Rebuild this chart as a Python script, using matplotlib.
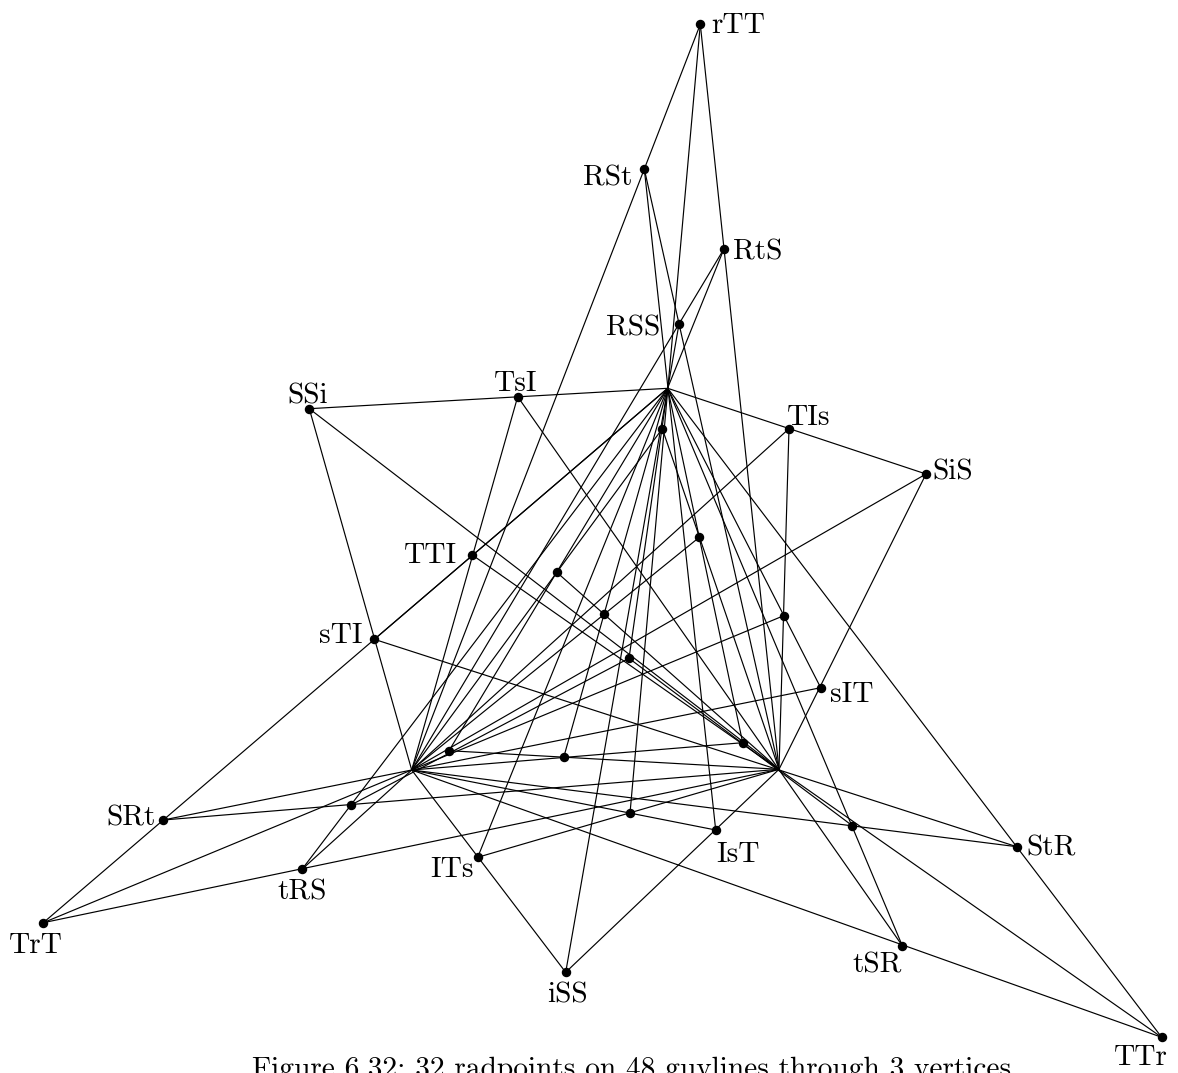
import matplotlib
matplotlib.use("Agg")
import matplotlib.pyplot as plt
import numpy as np

# ---- data: the three vertices and the 32 radpoints (picture coordinates) ----
vertex_names = ["A", "B", "C"]
vertex_x = [667.7, 411.7, 779.0]
vertex_y = [388.3, 770.0, 769.3]

point_names = ["rTT", "RSt", "RtS", "RSS", "TsI", "SSi", "TIs", "SiS",
               "TTI", "sTI", "sIT", "SRt", "StR", "IsT", "ITs", "tRS",
               "TrT", "tSR", "iSS", "TTr",
               "u1", "u2", "u3", "u4", "u5", "u6", "u7", "u8", "u9", "u10", "u11", "u12"]
point_x = [700.3, 644.3, 724.0, 679.0, 517.7, 309.3, 789.0, 926.0,
           472.3, 374.3, 820.7, 163.3, 1016.7, 715.7, 477.7, 302.0,
           43.3, 902.3, 565.7, 1161.7,
           662.3, 699.3, 556.8, 604.3, 783.7, 629.0, 449.0, 563.7, 742.7, 351.0, 630.0, 852.3]
point_y = [24.3, 169.0, 248.8, 324.0, 396.7, 408.7, 428.7, 474.0,
           555.0, 639.3, 687.7, 820.0, 846.7, 830.0, 857.3, 869.3,
           922.7, 945.7, 972.3, 1037.3,
           428.7, 537.3, 572.3, 614.3, 615.7, 658.3, 750.7, 757.3, 742.7, 805.0, 813.3, 825.7]

# guylines: each passes through one vertex and two radpoints
guylines_A = [("TIs", "SiS"), ("StR", "TTr"), ("u5", "sIT"), ("tSR", "u12"),
              ("u2", "u9"), ("IsT", "RSt"), ("u11", "rTT"), ("u6", "u1"),
              ("iSS", "RSS"), ("u8", "u4"), ("RtS", "ITs"), ("u3", "u7"),
              ("tRS", "u10"), ("TTI", "sTI"), ("SRt", "TrT"), ("TsI", "SSi")]
guylines_B = [("u12", "StR"), ("u11", "IsT"), ("tSR", "TTr"), ("ITs", "iSS"),
              ("sTI", "SSi"), ("TTI", "TsI"), ("RSt", "rTT"), ("RtS", "RSS"),
              ("u1", "u3"), ("TIs", "tRS"), ("u4", "u2"), ("u5", "TrT"),
              ("sIT", "SRt"), ("u8", "u9"), ("SiS", "u7"), ("u10", "u6")]
guylines_C = [("u7", "u8"), ("StR", "sTI"), ("TTr", "TTI"), ("u12", "u6"),
              ("u9", "SSi"), ("u3", "u4"), ("tSR", "TsI"), ("u1", "u2"),
              ("RSt", "RSS"), ("RtS", "rTT"), ("TIs", "u5"), ("SiS", "sIT"),
              ("iSS", "IsT"), ("ITs", "u11"), ("TrT", "tRS"), ("SRt", "u10")]

labelled = ["rTT", "RSt", "RtS", "RSS", "TsI", "SSi", "TIs", "SiS",
            "TTI", "sTI", "sIT", "SRt", "StR", "IsT", "ITs", "tRS",
            "TrT", "tSR", "iSS", "TTr"]

caption = "Figure 6.32: 32 radpoints on 48 guylines through 3 vertices."

# ---- layout (label placement: dx, dy to baseline, alignment) ----
label_place = {
    "rTT": (11, 9, "left"), "RSt": (-12, 16, "right"), "RtS": (9, 11, "left"),
    "RSS": (-19, 11.7, "right"), "TsI": (-2, -5.7, "center"), "SSi": (-2, -5.7, "center"),
    "TIs": (-2, -3.7, "left"), "SiS": (6, 5, "left"), "TTI": (-15, 8, "right"),
    "sTI": (-12, 4, "right"), "sIT": (9, 14, "left"), "SRt": (-8, 5, "right"),
    "StR": (10, 9, "left"), "IsT": (1, 32, "left"), "ITs": (-4, 20, "right"),
    "tRS": (0, 30, "center"), "TrT": (-7, 30, "center"), "tSR": (0, 27, "right"),
    "iSS": (2, 30, "center"), "TTr": (6, 28, "right"),
}

W, H = 1178, 1073
fig = plt.figure(figsize=(W / 100, H / 100), dpi=100)
ax = fig.add_axes([0, 0, 1, 1])
ax.set_xlim(0, W)
ax.set_ylim(H, 0)
ax.axis("off")

pos = {n: np.array([x, y]) for n, x, y in zip(point_names, point_x, point_y)}
vpos = {n: np.array([x, y]) for n, x, y in zip(vertex_names, vertex_x, vertex_y)}

for vname, lines in zip(vertex_names, [guylines_A, guylines_B, guylines_C]):
    v = vpos[vname]
    for p, q in lines:
        P, Q = pos[p], pos[q]
        d = (P - v) / np.linalg.norm(P - v)
        pts = [v, P, Q]
        ts = [np.dot(s - v, d) for s in pts]
        a = pts[int(np.argmin(ts))]
        b = pts[int(np.argmax(ts))]
        ax.plot([a[0], b[0]], [a[1], b[1]], color="black", lw=0.85,
                solid_capstyle="round", zorder=1)

ax.plot(point_x, point_y, "o", color="black", ms=5.8, zorder=3)

for n in labelled:
    dx, dy, ha = label_place[n]
    x, y = pos[n]
    ax.text(x + dx, y + dy, n, fontfamily="cmr10", fontsize=21.2,
            ha=ha, va="baseline", zorder=4)

ax.text(636, 1077, caption, fontfamily="cmr10", fontsize=21.2,
        ha="center", va="baseline")

fig.savefig("out.png", dpi=100)
